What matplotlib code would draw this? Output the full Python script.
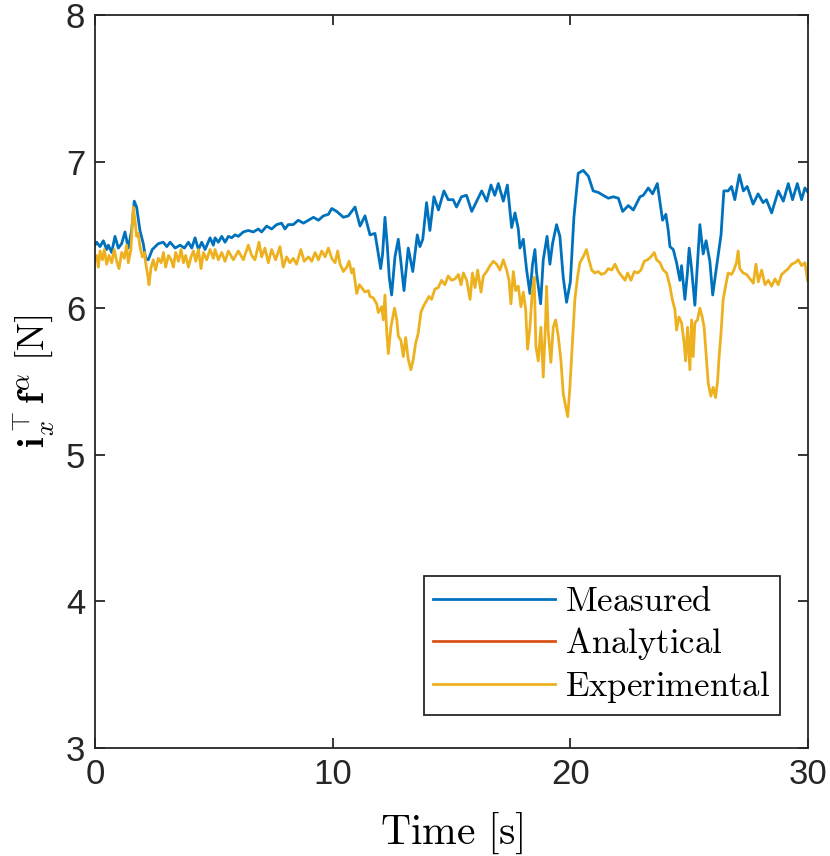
import numpy as np
import matplotlib
matplotlib.use('Agg')
import matplotlib.pyplot as plt

# Measured force
t_meas = [0.0, 0.07, 0.21, 0.35, 0.49, 0.56, 0.70, 0.84, 0.98, 1.12, 1.26, 1.40, 1.54, 1.65, 1.75,
          1.89, 2.03, 2.13, 2.24, 2.41, 2.66, 2.87, 3.02, 3.16, 3.37, 3.58, 3.76, 3.93, 4.07, 4.21,
          4.35, 4.49, 4.63, 4.84, 4.98, 5.05, 5.19, 5.33, 5.47, 5.61, 5.75, 5.89, 6.03, 6.24, 6.45,
          6.66, 6.87, 7.01, 7.22, 7.43, 7.64, 7.85, 7.99, 8.13, 8.34, 8.55, 8.77, 8.98, 9.19, 9.40,
          9.61, 9.82, 9.96, 10.17, 10.45, 10.66, 10.94, 11.15, 11.36, 11.57, 11.78, 11.85, 12.02,
          12.10, 12.20, 12.30, 12.38, 12.48, 12.62, 12.76, 12.86, 13.00, 13.18, 13.25, 13.37, 13.56,
          13.67, 13.79, 13.95, 14.09, 14.26, 14.45, 14.68, 14.86, 15.07, 15.21, 15.42, 15.63, 15.85,
          16.06, 16.27, 16.48, 16.66, 16.82, 16.97, 17.18, 17.35, 17.53, 17.67, 17.81, 17.88, 18.02,
          18.16, 18.30, 18.41, 18.51, 18.58, 18.75, 18.86, 19.02, 19.14, 19.25, 19.42, 19.56, 19.70,
          19.84, 20.00, 20.15, 20.33, 20.54, 20.76, 20.96, 21.17, 21.38, 21.60, 21.81, 22.02, 22.20,
          22.44, 22.65, 22.93, 23.07, 23.28, 23.46, 23.66, 23.88, 24.02, 24.12, 24.19, 24.33, 24.47,
          24.61, 24.68, 24.82, 24.92, 25.00, 25.10, 25.24, 25.45, 25.59, 25.71, 25.87, 25.99, 26.15,
          26.34, 26.46, 26.64, 26.78, 26.92, 27.11, 27.28, 27.44, 27.69, 27.90, 28.11, 28.25, 28.47,
          28.75, 28.96, 29.17, 29.35, 29.55, 29.73, 29.87, 30.0]
f_meas = [6.43, 6.45, 6.42, 6.46, 6.40, 6.43, 6.38, 6.49, 6.41, 6.44, 6.52, 6.41, 6.53, 6.73, 6.69,
          6.53, 6.44, 6.34, 6.33, 6.40, 6.44, 6.45, 6.42, 6.45, 6.41, 6.43, 6.41, 6.45, 6.41, 6.48,
          6.40, 6.45, 6.40, 6.48, 6.43, 6.48, 6.45, 6.49, 6.45, 6.49, 6.48, 6.50, 6.49, 6.52, 6.53,
          6.52, 6.54, 6.52, 6.56, 6.54, 6.57, 6.58, 6.54, 6.57, 6.57, 6.60, 6.58, 6.60, 6.62, 6.60,
          6.63, 6.64, 6.68, 6.66, 6.62, 6.63, 6.69, 6.56, 6.63, 6.50, 6.51, 6.44, 6.27,
          6.37, 6.62, 6.42, 6.21, 6.09, 6.35, 6.47, 6.33, 6.12, 6.41, 6.35, 6.25, 6.50,
          6.42, 6.47, 6.72, 6.53, 6.76, 6.67, 6.80, 6.74, 6.74, 6.69, 6.76, 6.77, 6.66,
          6.73, 6.80, 6.73, 6.84, 6.77, 6.85, 6.73, 6.84, 6.55, 6.65, 6.54, 6.41, 6.47,
          6.26, 6.10, 6.30, 6.40, 6.24, 6.03, 6.33, 6.49, 6.30, 6.44, 6.57, 6.49, 6.21,
          6.04, 6.18, 6.62, 6.92, 6.94, 6.90, 6.80, 6.79, 6.77, 6.75, 6.76, 6.75, 6.66,
          6.70, 6.67, 6.76, 6.77, 6.82, 6.78, 6.85, 6.60, 6.64, 6.53, 6.42, 6.40, 6.31,
          6.19, 6.29, 6.06, 6.23, 6.41, 6.27, 6.02, 6.57, 6.37, 6.46, 6.32, 6.09, 6.28,
          6.50, 6.80, 6.80, 6.83, 6.74, 6.91, 6.80, 6.83, 6.71, 6.78, 6.72, 6.74, 6.65,
          6.80, 6.73, 6.85, 6.74, 6.85, 6.74, 6.82, 6.79]

# Experimental force
t_exp = [0.0, 0.07, 0.14, 0.21, 0.31, 0.39, 0.49, 0.59, 0.70, 0.81, 0.91, 1.01, 1.12, 1.23, 1.33,
         1.40, 1.51, 1.61, 1.68, 1.75, 1.82, 1.89, 1.99, 2.08, 2.13, 2.22, 2.27, 2.36, 2.45, 2.55,
         2.66, 2.78, 2.88, 2.97, 3.09, 3.20, 3.30, 3.39, 3.51, 3.62, 3.72, 3.81, 3.93, 4.04, 4.14,
         4.24, 4.35, 4.46, 4.56, 4.70, 4.84, 4.98, 5.05, 5.19, 5.33, 5.47, 5.61, 5.82, 6.03, 6.24,
         6.45, 6.59, 6.73, 6.90, 7.01, 7.15, 7.29, 7.43, 7.60, 7.78, 7.92, 8.06, 8.20, 8.34, 8.48,
         8.66, 8.80, 8.98, 9.12, 9.26, 9.40, 9.54, 9.68, 9.82, 9.96, 10.10, 10.21, 10.31, 10.45,
         10.59, 10.69, 10.80, 10.87, 11.01, 11.12, 11.22, 11.36, 11.50, 11.57, 11.71, 11.85, 11.92,
         12.06, 12.13, 12.20, 12.27, 12.34, 12.45, 12.60, 12.70, 12.76, 12.87, 12.97, 13.07, 13.18,
         13.29, 13.39, 13.49, 13.60, 13.71, 13.81, 13.91, 14.05, 14.16, 14.30, 14.44, 14.58, 14.72,
         14.86, 15.00, 15.15, 15.29, 15.40, 15.50, 15.64, 15.78, 15.88, 15.99, 16.10, 16.24, 16.34,
         16.48, 16.62, 16.76, 16.90, 17.04, 17.18, 17.32, 17.42, 17.50, 17.60, 17.70, 17.81, 17.92,
         18.02, 18.12, 18.20, 18.30, 18.40, 18.48, 18.55, 18.65, 18.76, 18.86, 18.96, 19.00, 19.07,
         19.18, 19.28, 19.38, 19.49, 19.60, 19.70, 19.80, 19.89, 19.98, 20.08, 20.19, 20.31, 20.40,
         20.54, 20.68, 20.78, 20.90, 21.03, 21.17, 21.31, 21.46, 21.60, 21.74, 21.88, 22.02, 22.16,
         22.30, 22.41, 22.55, 22.69, 22.83, 22.97, 23.11, 23.25, 23.39, 23.53, 23.63, 23.77, 23.91,
         24.05, 24.19, 24.29, 24.40, 24.47, 24.57, 24.68, 24.79, 24.85, 24.93, 25.03, 25.10, 25.17,
         25.24, 25.35, 25.45, 25.55, 25.63, 25.73, 25.80, 25.91, 26.01, 26.11, 26.20, 26.25, 26.34,
         26.43, 26.53, 26.64, 26.78, 26.88, 26.99, 27.06, 27.13, 27.27, 27.42, 27.56, 27.70, 27.81,
         27.91, 28.05, 28.19, 28.33, 28.47, 28.61, 28.75, 28.89, 29.03, 29.17, 29.31, 29.45, 29.59,
         29.73, 29.87, 29.98]
f_exp = [6.33, 6.36, 6.28, 6.39, 6.33, 6.40, 6.30, 6.36, 6.31, 6.40, 6.32, 6.27, 6.38, 6.34, 6.43,
         6.31, 6.40, 6.69, 6.60, 6.49, 6.51, 6.42, 6.35, 6.38, 6.31, 6.22, 6.16, 6.28, 6.33, 6.26,
         6.34, 6.31, 6.38, 6.28, 6.36, 6.33, 6.28, 6.38, 6.32, 6.40, 6.31, 6.36, 6.28, 6.35, 6.39,
         6.32, 6.40, 6.27, 6.38, 6.33, 6.40, 6.34, 6.40, 6.33, 6.38, 6.32, 6.39, 6.33, 6.39, 6.33,
         6.43, 6.36, 6.33, 6.45, 6.35, 6.41, 6.31, 6.40, 6.33, 6.42, 6.28, 6.35, 6.31, 6.34, 6.30,
         6.40, 6.32, 6.35, 6.32, 6.38, 6.33, 6.39, 6.35, 6.41, 6.34, 6.31, 6.39, 6.30, 6.25,
         6.28, 6.32, 6.24, 6.27, 6.10, 6.16, 6.14, 6.11, 6.12, 6.08, 6.07, 6.03, 5.97,
         6.01, 5.92, 6.09, 5.85, 5.69, 5.87, 6.00, 5.92, 5.81, 5.78, 5.67, 5.80, 5.65,
         5.58, 5.65, 5.76, 5.83, 5.97, 6.01, 6.04, 6.08, 6.06, 6.13, 6.14, 6.19, 6.16,
         6.22, 6.19, 6.20, 6.23, 6.16, 6.24, 6.19, 6.06, 6.24, 6.14, 6.26, 6.11, 6.22,
         6.25, 6.29, 6.32, 6.30, 6.26, 6.33, 6.26, 6.19, 6.03, 6.25, 6.12, 6.15, 6.01,
         6.11, 5.99, 5.72, 5.87, 6.12, 6.21, 5.74, 5.64, 5.87, 5.53, 5.92, 6.15, 5.84,
         5.63, 5.87, 5.92, 5.81, 5.65, 5.42, 5.33, 5.26, 5.46, 5.74, 6.06, 6.22, 6.31,
         6.35, 6.40, 6.33, 6.26, 6.24, 6.25, 6.23, 6.24, 6.27, 6.26, 6.30, 6.25, 6.22,
         6.19, 6.24, 6.19, 6.25, 6.24, 6.26, 6.32, 6.33, 6.35, 6.38, 6.33, 6.31, 6.26,
         6.24, 6.15, 6.06, 5.99, 5.85, 5.94, 5.90, 5.76, 5.64, 5.87, 5.58, 5.92, 5.67,
         5.90, 5.92, 6.00, 5.94, 5.87, 5.65, 5.49, 5.40, 5.46, 5.39, 5.51, 5.65, 5.83,
         6.06, 6.15, 6.24, 6.23, 6.26, 6.31, 6.39, 6.27, 6.24, 6.23, 6.20, 6.17, 6.30,
         6.18, 6.26, 6.16, 6.19, 6.15, 6.20, 6.16, 6.23, 6.25, 6.27, 6.30, 6.31, 6.33,
         6.29, 6.31, 6.19]

# Analytical curve has no points inside the visible window
t_ana = []
f_ana = []

x_ticks = [0, 10, 20, 30]
y_ticks = [3, 4, 5, 6, 7, 8]

plt.rcParams['mathtext.fontset'] = 'cm'
plt.rcParams['font.family'] = ['Liberation Sans', 'DejaVu Sans']

fig = plt.figure(figsize=(8.30, 8.56), dpi=100)
ax = fig.add_axes([0.1145, 0.1262, 0.859, 0.8563])

ax.plot(t_meas, f_meas, color='#0072BD', lw=2.0, label=r'$\mathrm{Measured}$')
ax.plot(t_ana, f_ana, color='#D95319', lw=2.0, label=r'$\mathrm{Analytical}$')
ax.plot(t_exp, f_exp, color='#EDB120', lw=2.0, label=r'$\mathrm{Experimental}$')

ax.set_xlim(0, 30)
ax.set_ylim(3, 8)
ax.set_xticks(x_ticks)
ax.set_yticks(y_ticks)
ax.tick_params(direction='in', length=7, width=1.3, top=True, right=True,
               labelsize=25, colors='#262626', pad=7)
for s in ax.spines.values():
    s.set_color('#262626')
    s.set_linewidth(1.3)

ax.set_xlabel(r'$\mathrm{Time\ [s]}$', fontsize=30, labelpad=14)
ax.set_ylabel(r'$\mathbf{i}_x^{\top}\mathbf{f}^{\alpha}\ [\mathrm{N}]$', fontsize=27, labelpad=7)

leg = ax.legend(loc='lower right', bbox_to_anchor=(0.961, 0.045), borderaxespad=0,
                fontsize=25, handlelength=3.5, handletextpad=0.3, labelspacing=0.2,
                fancybox=False, framealpha=1, edgecolor='#262626', borderpad=0.28)
leg.get_frame().set_linewidth(1.3)

plt.savefig('out.png', dpi=100)
